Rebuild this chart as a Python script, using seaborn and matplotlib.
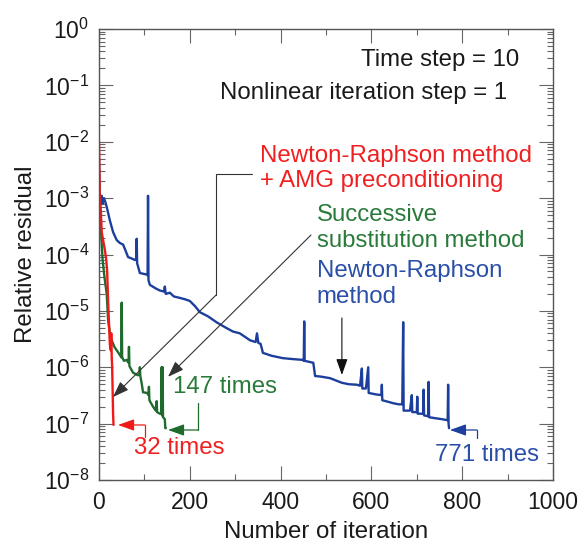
import numpy as np
import pandas as pd
import matplotlib
matplotlib.use('Agg')
import matplotlib.pyplot as plt
import seaborn as sns
from matplotlib.ticker import LogLocator, MultipleLocator, NullFormatter

# ---------------- data ----------------
red_x = [0, 1, 2, 4, 6, 9, 13, 16, 18, 20, 22, 24, 26, 27, 28, 29, 30, 31, 32]
red_y = [1e-2, 3e-3, 1e-3, 6e-4, 2.5e-4, 1.8e-4, 1.2e-4, 8e-5, 5e-5, 1.5e-5,
         6e-6, 2.5e-6, 2e-6, 4e-6, 1.5e-6, 1e-6, 4e-7, 1.5e-7, 9.5e-8]

green_x = [0, 2, 4, 6, 8, 12, 17, 20, 24, 28, 34, 39, 46, 49, 50, 51, 55, 61, 65,
           66, 67, 75, 86, 89, 90, 91, 94, 97, 106, 109, 110, 111, 119, 125, 127,
           128, 134, 137, 138, 139, 140, 141, 145, 146, 147]
green_y = [2e-3, 8e-4, 3e-4, 1.5e-4, 8e-5, 4e-5, 2e-5, 7e-6, 4e-6, 3e-6, 2.3e-6,
           2e-6, 1.65e-6, 1.5e-6, 1.4e-5, 1.5e-6, 1.3e-6, 1.35e-6, 1.2e-6,
           2.3e-6, 1.05e-6, 8e-7, 7.2e-7, 7.5e-7, 1e-6, 7e-7, 5.2e-7, 3.6e-7,
           3.5e-7, 3.2e-7, 4.5e-7, 2.6e-7, 2e-7, 1.7e-7, 2.5e-7, 1.6e-7, 1.5e-7,
           1.5e-7, 1e-6, 1.4e-7, 1e-6, 1.3e-7, 1.2e-7, 8.3e-8, 8.3e-8]

blue_x = [0, 1, 2, 4, 6, 8, 11, 14, 17, 24, 31, 39, 46, 53, 58, 64, 72, 79, 82, 83,
          84, 90, 100, 106, 107, 108, 109, 112, 125, 134, 143, 145, 147, 156, 165,
          178, 190, 200, 212, 222, 240, 260, 280, 295, 310, 333, 345, 348, 351,
          356, 361, 380, 405, 425, 449, 451, 452, 453, 472, 476, 490, 509, 535,
          550, 568, 575, 579, 580, 588, 593, 594, 610, 622, 623, 624, 640, 648,
          660, 668, 670, 671, 685, 689, 690, 700, 701, 702, 714, 715, 716, 725,
          726, 727, 740, 755, 768, 769, 770, 771]
blue_y = [5e-3, 1.5e-3, 1e-3, 8e-4, 1.1e-3, 8e-4, 1e-3, 8.5e-4, 7e-4, 4e-4,
          2.5e-4, 1.8e-4, 1.6e-4, 1.5e-4, 1.2e-4, 9e-5, 8.5e-5, 8e-5, 8e-5,
          1.9e-4, 7e-5, 4.7e-5, 4.5e-5, 4.4e-5, 4.3e-5, 1.1e-3, 3.5e-5, 2.9e-5,
          2.5e-5, 2.3e-5, 2.2e-5, 2.7e-5, 2.0e-5, 2.1e-5, 1.8e-5, 1.7e-5, 1.6e-5,
          1.5e-5, 1.2e-5, 9.5e-6, 8e-6, 6.2e-6, 5e-6, 4.3e-6, 4e-6, 3e-6, 2.8e-6,
          4e-6, 2.7e-6, 2.6e-6, 1.8e-6, 1.6e-6, 1.45e-6, 1.4e-6, 1.35e-6, 1.3e-6,
          6.5e-6, 1.3e-6, 1.2e-6, 7e-7, 6.8e-7, 6.4e-7, 5.3e-7, 5e-7, 4.9e-7,
          4.7e-7, 9.5e-7, 4.2e-7, 4.2e-7, 1e-6, 3.5e-7, 3.3e-7, 3.2e-7, 4.9e-7,
          2.6e-7, 2.4e-7, 2.3e-7, 2.2e-7, 2.2e-7, 6.3e-6, 1.7e-7, 1.7e-7, 3.2e-7,
          1.6e-7, 1.6e-7, 3e-7, 1.5e-7, 1.5e-7, 4e-7, 1.4e-7, 1.35e-7, 5.5e-7,
          1.3e-7, 1.25e-7, 1.2e-7, 1.15e-7, 4.9e-7, 1.0e-7, 8.3e-8]

methods = ["Newton-Raphson method", "Successive substitution method",
           "Newton-Raphson method + AMG preconditioning"]
final_counts = [771, 147, 32]
colors = {"Newton-Raphson method": "#1c3f9e",
          "Successive substitution method": "#1f6b2e",
          "Newton-Raphson method + AMG preconditioning": "#f01818"}
text_colors = {"Newton-Raphson method": "#2a4fa8",
               "Successive substitution method": "#2a7a3a",
               "Newton-Raphson method + AMG preconditioning": "#f02020"}

df = pd.concat([
    pd.DataFrame({"iteration": blue_x, "residual": blue_y, "method": methods[0]}),
    pd.DataFrame({"iteration": green_x, "residual": green_y, "method": methods[1]}),
    pd.DataFrame({"iteration": red_x, "residual": red_y, "method": methods[2]}),
], ignore_index=True)

# ---------------- style ----------------
sns.set_style("ticks")
plt.rcParams['font.family'] = ['Liberation Sans', 'DejaVu Sans']
plt.rcParams['mathtext.fontset'] = 'custom'
plt.rcParams['mathtext.rm'] = 'Liberation Sans'
plt.rcParams['mathtext.it'] = 'Liberation Sans:italic'
plt.rcParams['mathtext.bf'] = 'Liberation Sans:bold'

FS = 16.5     # tick labels / axis labels
FA = 17.3     # annotation texts
W, H = 586, 547
fig = plt.figure(figsize=(W / 100, H / 100), dpi=100)
ax = fig.add_axes([99 / W, 1 - 480 / H, 454 / W, 451 / H])
ax.set_yscale('log')

for m in methods:
    sns.lineplot(data=df[df.method == m], x="iteration", y="residual",
                 color=colors[m], lw=1.7, estimator=None, sort=False, ax=ax,
                 legend=False)

ax.set_xlim(0, 1000)
ax.set_ylim(1e-8, 1)
ax.xaxis.set_major_locator(MultipleLocator(200))
ax.xaxis.set_minor_locator(MultipleLocator(100))
ax.yaxis.set_major_locator(LogLocator(base=10, numticks=20))
ax.yaxis.set_minor_locator(LogLocator(base=10, subs=np.arange(2, 10), numticks=20))
ax.yaxis.set_minor_formatter(NullFormatter())

ax.tick_params(which='both', direction='in', top=True, right=True,
               color='#666666', width=0.8, labelsize=FS, labelcolor='#1a1a1a')
ax.tick_params(which='major', length=10)
ax.tick_params(which='minor', length=4.5)
ax.tick_params(axis='x', which='major', pad=8)
ax.tick_params(axis='y', which='major', pad=7)
for s in ax.spines.values():
    s.set_color('#555555')
    s.set_linewidth(1.0)

ax.set_xlabel("Number of iteration", fontsize=FA, color='#1a1a1a', labelpad=5)
ax.set_ylabel("Relative residual", fontsize=FA, color='#1a1a1a', labelpad=5)

# ---------------- annotations ----------------
ax.text(925, 0.28, "Time step = 10", fontsize=FA, ha='right', va='center', color='#1a1a1a')
ax.text(899, 0.073, "Nonlinear iteration step = 1", fontsize=FA, ha='right', va='center',
        color='#1a1a1a')

ax.text(355, 10 ** -2.47, "Newton-Raphson method\n+ AMG preconditioning", fontsize=FA,
        ha='left', va='center', color=text_colors[methods[2]], linespacing=1.2)
ax.text(480, 10 ** -3.53, "Successive\nsubstitution method", fontsize=FA,
        ha='left', va='center', color=text_colors[methods[1]], linespacing=1.2)
ax.text(480, 10 ** -4.52, "Newton-Raphson\nmethod", fontsize=FA,
        ha='left', va='center', color=text_colors[methods[0]], linespacing=1.2)

arrow = '-|>,head_length=0.7,head_width=0.25'


def arrow_to(tip, tail, color='k', lw=0.8):
    ax.annotate('', xy=tip, xytext=tail,
                arrowprops=dict(arrowstyle=arrow, color=color, lw=lw,
                                mutation_scale=14, shrinkA=0, shrinkB=0))


# pointer to red curve
ax.plot([337, 258, 258], [10 ** -2.572, 10 ** -2.572, 10 ** -4.718], color='#333333', lw=0.8)
arrow_to((30.8, 10 ** -6.528), (258, 10 ** -4.718), color='#333333')
# pointer to green curve
arrow_to((152, 10 ** -6.17), (467, 10 ** -3.654), color='#333333')
# pointer to blue curve
arrow_to((535, 10 ** -6.137), (535, 10 ** -5.126), color='#111111')

# final-count brackets
ax.plot([101.3, 101.3], [10 ** -7.237, 10 ** -7.024], color=colors[methods[2]], lw=0.9)
arrow_to((41.9, 10 ** -7.024), (101.3, 10 ** -7.024), color=colors[methods[2]], lw=0.9)
ax.text(77, 10 ** -7.43, f"{final_counts[2]} times", fontsize=FA, ha='left', va='center',
        color=text_colors[methods[2]])

ax.plot([218, 218], [10 ** -6.634, 10 ** -7.113], color=colors[methods[1]], lw=0.9)
arrow_to((152, 10 ** -7.113), (218, 10 ** -7.113), color=colors[methods[1]], lw=0.9)
ax.text(163, 10 ** -6.35, f"{final_counts[1]} times", fontsize=FA, ha='left', va='center',
        color=text_colors[methods[1]])

ax.plot([832.6, 832.6], [10 ** -7.255, 10 ** -7.113], color=colors[methods[0]], lw=0.9)
arrow_to((773, 10 ** -7.113), (832.6, 10 ** -7.113), color=colors[methods[0]], lw=0.9)
ax.text(969, 10 ** -7.556, f"{final_counts[0]} times", fontsize=FA, ha='right', va='center',
        color=text_colors[methods[0]])

fig.savefig("out.png", dpi=100)
